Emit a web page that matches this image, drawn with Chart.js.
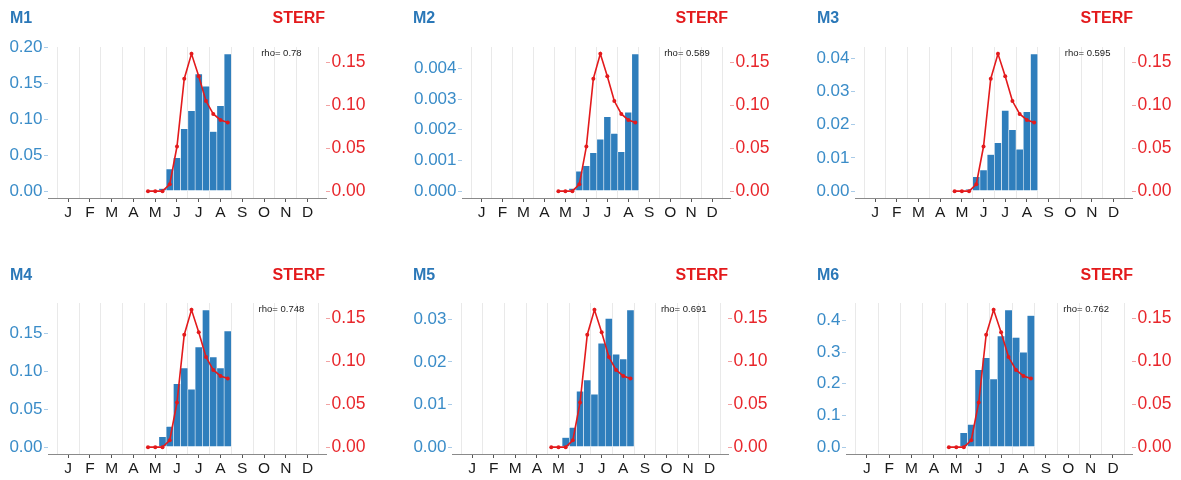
<!DOCTYPE html>
<html><head><meta charset="utf-8">
<script src="https://cdn.jsdelivr.net/npm/chart.js@4.4.1/dist/chart.umd.min.js"></script>
<style>
html,body{margin:0;padding:0;background:#fff;}
#wrap{position:relative;width:1181px;height:480px;overflow:hidden;font-family:'Liberation Sans',Arial,sans-serif;}
.panel{position:absolute;}
.ttl{position:absolute;font-weight:bold;font-size:16px;line-height:20px;white-space:nowrap;}
</style></head><body><div id="wrap"></div>
<script>
// ---------------- data ----------------
const monthLabels = ['J','F','M','A','M','J','J','A','S','O','N','D'];
const monthNames = ['Jan','Feb','Mar','Apr','May','Jun','Jul','Aug','Sep','Oct','Nov','Dec'];
const dekads = ['May-1','May-2','May-3','Jun-1','Jun-2','Jun-3','Jul-1','Jul-2','Jul-3','Aug-1','Aug-2','Aug-3'];
const sterf = [0, 0, 0, 0.008, 0.052, 0.131, 0.160, 0.134, 0.105, 0.090, 0.083, 0.080];
const sterfTicks = ['0.00','0.05','0.10','0.15'];

const panelNames = ['M1','M2','M3','M4','M5','M6'];
const m1 = [null, null, 0.0037, 0.031, 0.0465, 0.087, 0.112, 0.163, 0.146, 0.083, 0.119, 0.191];
const m2 = [null, null, 0.00009, 0.00065, 0.00083, 0.00125, 0.00169, 0.00242, 0.00188, 0.00128, 0.00257, 0.00447];
const m3 = [null, null, 0.0006, 0.0043, 0.0064, 0.0110, 0.0146, 0.0243, 0.0185, 0.0126, 0.0239, 0.0413];
const m4 = [null, null, 0.0137, 0.0274, 0.0839, 0.1046, 0.0764, 0.1324, 0.1814, 0.1192, 0.1046, 0.1536];
const m5 = [null, null, 0.00227, 0.00462, 0.0131, 0.01575, 0.0124, 0.0244, 0.0302, 0.0218, 0.0207, 0.0322];
const m6 = [null, null, 0.0453, 0.0716, 0.244, 0.282, 0.215, 0.351, 0.433, 0.346, 0.299, 0.415];
const barSeries = [m1, m2, m3, m4, m5, m6];

const m1Ticks = ['0.00','0.05','0.10','0.15','0.20'];
const m2Ticks = ['0.000','0.001','0.002','0.003','0.004'];
const m3Ticks = ['0.00','0.01','0.02','0.03','0.04'];
const m4Ticks = ['0.00','0.05','0.10','0.15'];
const m5Ticks = ['0.00','0.01','0.02','0.03'];
const m6Ticks = ['0.0','0.1','0.2','0.3','0.4'];
const leftTicks = [m1Ticks, m2Ticks, m3Ticks, m4Ticks, m5Ticks, m6Ticks];

const rhoValues = ['0.78','0.589','0.595','0.748','0.691','0.762'];

// ---------------- layout / style ----------------
const layout = [
  {left:48,  right:326,  top:47,  titleX:10,  titleY:17.5, sterfRight:325},
  {left:462, right:730,  top:47,  titleX:413, titleY:17.5, sterfRight:728},
  {left:855, right:1132, top:47,  titleX:817, titleY:17.5, sterfRight:1133},
  {left:48,  right:326,  top:303, titleX:10,  titleY:275,  sterfRight:325},
  {left:452, right:728,  top:303, titleX:413, titleY:275,  sterfRight:728},
  {left:846, right:1132, top:303, titleX:817, titleY:275,  sterfRight:1133}
];
const AXW = 50, PADT = 20, PH = 151, XAXH = 30;
const XMIN = -0.43, XMAX = 12.35, RHO_X = 10.3;
const BLUE = '#2f7ebc', BLUE_TITLE = '#2b78b8', BLUE_LAB = '#3a8cc8', BLUE_TICK = '#a9cbe8';
const RED = '#e31a1c', RED_LAB = '#e8262b', RED_TICK = '#f2a3a3';
const FONT = "'Liberation Sans', Arial, sans-serif";

const dekadX = dekads.map(d => {
  const [m, k] = d.split('-');
  return monthNames.indexOf(m) + (parseInt(k) - 0.5) / 3;
});
const monthCenters = monthLabels.map((_, i) => i + 0.5);
const monthBounds = monthLabels.map((_, i) => i).concat([monthLabels.length]);

const rhoPlugin = {
  id: 'rho',
  afterDatasetsDraw(chart, args, opts) {
    const ctx = chart.ctx;
    const x = chart.scales.x.getPixelForValue(RHO_X);
    const y = chart.scales.y.getPixelForValue(opts.yv);
    ctx.save();
    ctx.font = '9.5px ' + FONT;
    ctx.fillStyle = '#222';
    ctx.textAlign = 'center';
    ctx.textBaseline = 'middle';
    ctx.fillText(opts.text, x, y);
    ctx.restore();
  }
};

const wrap = document.getElementById('wrap');

function addTitle(text, color, style) {
  const d = document.createElement('div');
  d.className = 'ttl';
  d.textContent = text;
  d.style.color = color;
  Object.assign(d.style, style);
  wrap.appendChild(d);
}

function makePanel(i) {
  const L = layout[i];
  const vals = barSeries[i];
  const maxBar = Math.max(...vals.filter(v => v != null));
  const maxSterf = Math.max(...sterf);
  const tickLabels = leftTicks[i];
  const W = L.right - L.left + 2 * AXW, H = PADT + PH + XAXH;

  const div = document.createElement('div');
  div.className = 'panel';
  div.style.left = (L.left - AXW) + 'px';
  div.style.top = (L.top - PADT) + 'px';
  div.style.width = W + 'px';
  div.style.height = H + 'px';
  const cv = document.createElement('canvas');
  cv.width = W; cv.height = H;
  cv.style.width = W + 'px'; cv.style.height = H + 'px';
  div.appendChild(cv);
  wrap.appendChild(div);

  addTitle(panelNames[i], BLUE_TITLE, {left: L.titleX + 'px', top: (L.titleY - 10) + 'px'});
  addTitle('STERF', RED, {right: (1181 - L.sterfRight) + 'px', top: (L.titleY - 10) + 'px'});

  new Chart(cv, {
    type: 'bar',
    data: {
      datasets: [
        {
          type: 'line', label: 'STERF',
          data: dekadX.map((x, k) => ({x, y: sterf[k]})),
          xAxisID: 'x', yAxisID: 'y2',
          borderColor: RED, backgroundColor: RED, borderWidth: 1.6,
          pointRadius: 2, pointHoverRadius: 2, pointBorderWidth: 0,
          pointBackgroundColor: RED, tension: 0, order: 1
        },
        {
          type: 'bar', label: panelNames[i],
          data: dekadX.map((x, k) => ({x, y: vals[k]})),
          xAxisID: 'x', yAxisID: 'y',
          backgroundColor: BLUE, borderColor: 'rgba(255,255,255,0.7)',
          borderWidth: 0.6, borderSkipped: false,
          barPercentage: 1, categoryPercentage: 1, order: 2
        }
      ]
    },
    options: {
      responsive: false, animation: false, events: [], devicePixelRatio: 1,
      layout: {padding: {top: PADT, left: 0, right: 0, bottom: 0}},
      plugins: {
        legend: {display: false}, tooltip: {enabled: false}, title: {display: false},
        rho: {text: 'rho= ' + rhoValues[i], yv: maxBar}
      },
      scales: {
        x: {
          type: 'linear', position: 'bottom', min: XMIN, max: XMAX, offset: false,
          afterBuildTicks: s => { s.ticks = monthCenters.map(v => ({value: v})); },
          afterFit: s => { s.height = XAXH; },
          ticks: {
            autoSkip: false, maxRotation: 0, minRotation: 0, padding: 1,
            color: '#1a1a1a', font: {family: FONT, size: 15.5, lineHeight: 1.2},
            callback: (v, idx) => monthLabels[idx]
          },
          grid: {offset: false, drawOnChartArea: false, drawTicks: true, tickLength: 4, tickColor: '#555', lineWidth: 1},
          border: {display: true, color: '#8a8a8a', width: 1}
        },
        xg: {
          type: 'linear', position: 'top', min: XMIN, max: XMAX, offset: false,
          afterBuildTicks: s => { s.ticks = monthBounds.map(v => ({value: v})); },
          afterFit: s => { s.height = 0; },
          ticks: {display: false},
          grid: {offset: false, drawOnChartArea: true, drawTicks: false, color: '#e9e9e9', lineWidth: 1},
          border: {display: false}
        },
        y: {
          type: 'linear', position: 'left', min: -0.05 * maxBar, max: 1.05 * maxBar,
          afterBuildTicks: s => { s.ticks = tickLabels.map(t => ({value: parseFloat(t)})); },
          afterFit: s => { s.width = AXW; },
          ticks: {
            padding: 1.5, color: BLUE_LAB, font: {family: FONT, size: 17},
            callback: (v, idx) => tickLabels[idx]
          },
          grid: {drawOnChartArea: false, drawTicks: true, tickLength: 4, tickColor: BLUE_TICK},
          border: {display: false}
        },
        y2: {
          type: 'linear', position: 'right', min: -0.05 * maxSterf, max: 1.05 * maxSterf,
          afterBuildTicks: s => { s.ticks = sterfTicks.map(t => ({value: parseFloat(t)})); },
          afterFit: s => { s.width = AXW; },
          ticks: {
            padding: 1.5, color: RED_LAB, font: {family: FONT, size: 17.5},
            callback: (v, idx) => sterfTicks[idx]
          },
          grid: {drawOnChartArea: false, drawTicks: true, tickLength: 4, tickColor: RED_TICK},
          border: {display: false}
        }
      }
    },
    plugins: [rhoPlugin]
  });
}

for (let i = 0; i < 6; i++) makePanel(i);
</script>
</body></html>
